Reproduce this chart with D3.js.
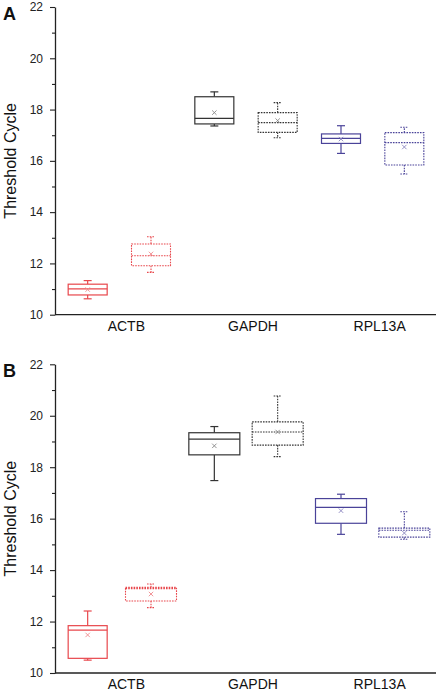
<!DOCTYPE html>
<html>
<head>
<meta charset="utf-8">
<script src="https://cdn.jsdelivr.net/npm/d3@7"></script>
<style>
  html, body { margin: 0; padding: 0; background: #fff; }
  svg { display: block; }
  text { font-family: Arial, "Liberation Sans", Helvetica, sans-serif; }
</style>
</head>
<body>
<svg id="chart" width="437" height="691"></svg>
<script>
// ---- data ----
const categories = ["ACTB", "GAPDH", "RPL13A"];
const groups = ["Group 1", "Group 2"];
const yTicks = [10, 12, 14, 16, 18, 20, 22];
const yMinorTicks = [11, 13, 15, 17, 19, 21];
const yTitle = "Threshold Cycle";

// order: ACTB-1, ACTB-2, GAPDH-1, GAPDH-2, RPL13A-1, RPL13A-2
const panelA_min    = [10.62, 11.65, 17.36, 16.90, 16.29, 15.49];
const panelA_q1     = [10.77, 11.91, 17.44, 17.11, 16.68, 15.84];
const panelA_median = [11.01, 12.30, 17.66, 17.49, 16.88, 16.71];
const panelA_q3     = [11.19, 12.76, 18.50, 17.88, 17.05, 17.10];
const panelA_max    = [11.33, 13.04, 18.69, 18.27, 17.37, 17.31];
const panelA_mean   = [10.98, 12.37, 17.88, 17.57, 16.85, 16.54];

const panelB_min    = [10.50, 12.54, 17.48, 18.41, 15.39, 15.20];
const panelB_q1     = [10.57, 12.80, 18.48, 18.86, 15.82, 15.28];
const panelB_median = [11.67, 13.28, 19.09, 19.37, 16.44, 15.55];
const panelB_q3     = [11.84, 13.33, 19.34, 19.76, 16.78, 15.63];
const panelB_max    = [12.41, 13.46, 19.58, 20.77, 16.95, 16.27];
const panelB_mean   = [11.48, 13.07, 18.83, 19.37, 16.31, 15.44];

// ---- styles ----
const catColors = { "ACTB": "#e8474c", "GAPDH": "#333333", "RPL13A": "#4a4399" };
const meanColors = { "ACTB": "#ef8a8d", "GAPDH": "#888888", "RPL13A": "#8a84c0" };
const boxWidthsA = [39, 39, 39, 39, 39, 39];
const boxWidthsB = [39, 51, 51, 51, 51, 51];

const svg = d3.select("#chart");

function buildRows(mn, q1, md, q3, mx, mean) {
  const rows = [];
  categories.forEach((c, ci) => {
    groups.forEach((g, gi) => {
      const i = ci * groups.length + gi;
      rows.push({ cat: c, group: g, gi, i, min: mn[i], q1: q1[i], median: md[i], q3: q3[i], max: mx[i], mean: mean[i] });
    });
  });
  return rows;
}

function drawPanel(opts) {
  const { top, bottom, label, rows, widths } = opts;
  const left = 55, right = 436;
  const g = svg.append("g");

  const y = d3.scaleLinear().domain([10, 22]).range([bottom, top]);
  const x = d3.scaleBand().domain(categories).range([left + 1, right]);
  const sub = d3.scaleBand().domain(groups).range([0, x.bandwidth()]);

  // y axis major
  const yAxis = g.append("g").attr("transform", `translate(${left},0)`)
    .call(d3.axisLeft(y).tickValues(yTicks).tickSize(5).tickSizeOuter(0).tickPadding(7));
  yAxis.select(".domain").attr("stroke", "#222").attr("stroke-width", 1.3);
  yAxis.selectAll(".tick line").attr("stroke", "#222").attr("stroke-width", 1.1);
  yAxis.selectAll(".tick text").attr("font-size", 12).attr("fill", "#222")
    .style("font-family", "Arial, 'Liberation Sans', sans-serif");

  // y axis minor
  const yMinor = g.append("g").attr("transform", `translate(${left},0)`)
    .call(d3.axisLeft(y).tickValues(yMinorTicks).tickSize(3).tickSizeOuter(0).tickFormat(""));
  yMinor.select(".domain").remove();
  yMinor.selectAll(".tick line").attr("stroke", "#222").attr("stroke-width", 1.1);

  // x axis
  const xAxis = g.append("g").attr("transform", `translate(0,${bottom})`)
    .call(d3.axisBottom(x).tickSize(0).tickSizeOuter(0).tickPadding(6));
  xAxis.select(".domain").attr("stroke", "#222").attr("stroke-width", 1.3)
    .attr("d", `M${left},0H${right}`);
  xAxis.selectAll(".tick text").attr("font-size", 14).attr("fill", "#111")
    .attr("dx", 7)
    .style("font-family", "Arial, 'Liberation Sans', sans-serif");

  // y title
  g.append("text")
    .attr("transform", `translate(16,${(top + bottom) / 2}) rotate(-90)`)
    .attr("text-anchor", "middle")
    .attr("font-size", 16)
    .attr("fill", "#111")
    .text(yTitle);

  // panel label
  g.append("text")
    .attr("x", 3).attr("y", top + 12.5)
    .attr("font-size", 18).attr("font-weight", "bold").attr("fill", "#111")
    .text(label);

  // boxes
  const capW = 8;
  rows.forEach(d => {
    const cx = x(d.cat) + sub(d.group) + sub.bandwidth() / 2;
    const w = widths[d.i];
    const col = catColors[d.cat];
    const dash = d.gi === 1 ? "1.6,1.1" : null;
    const sw = d.gi === 1 ? 1.1 : 1.2;
    const bg = g.append("g")
      .attr("fill", "none").attr("stroke", col).attr("stroke-width", sw)
      .attr("stroke-dasharray", dash);

    // whiskers
    bg.append("line").attr("x1", cx).attr("x2", cx).attr("y1", y(d.q3)).attr("y2", y(d.max));
    bg.append("line").attr("x1", cx).attr("x2", cx).attr("y1", y(d.q1)).attr("y2", y(d.min));
    bg.append("line").attr("x1", cx - capW / 2).attr("x2", cx + capW / 2).attr("y1", y(d.max)).attr("y2", y(d.max));
    bg.append("line").attr("x1", cx - capW / 2).attr("x2", cx + capW / 2).attr("y1", y(d.min)).attr("y2", y(d.min));
    // box
    bg.append("rect")
      .attr("x", cx - w / 2).attr("width", w)
      .attr("y", y(d.q3)).attr("height", y(d.q1) - y(d.q3))
      .attr("fill", "#fff");
    // median
    bg.append("line").attr("x1", cx - w / 2).attr("x2", cx + w / 2)
      .attr("y1", y(d.median)).attr("y2", y(d.median));
    // mean ×
    const m = 2.2, my = y(d.mean);
    g.append("path")
      .attr("d", `M${cx - m},${my - m}L${cx + m},${my + m}M${cx - m},${my + m}L${cx + m},${my - m}`)
      .attr("stroke", meanColors[d.cat]).attr("stroke-width", 0.9).attr("fill", "none");
  });
}

drawPanel({
  top: 7, bottom: 314.7, label: "A",
  rows: buildRows(panelA_min, panelA_q1, panelA_median, panelA_q3, panelA_max, panelA_mean),
  widths: boxWidthsA
});
drawPanel({
  top: 364.3, bottom: 673, label: "B",
  rows: buildRows(panelB_min, panelB_q1, panelB_median, panelB_q3, panelB_max, panelB_mean),
  widths: boxWidthsB
});
</script>
</body>
</html>
